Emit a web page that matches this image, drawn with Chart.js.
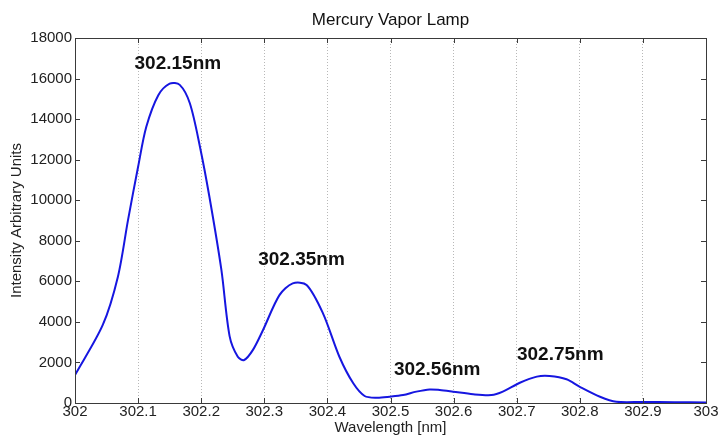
<!DOCTYPE html>
<html>
<head>
<meta charset="utf-8">
<script src="https://cdn.jsdelivr.net/npm/chart.js@4"></script>
<style>
  body { margin: 0; background: #fff; }
</style>
</head>
<body>
<canvas id="lampChart" width="719" height="438"></canvas>
<script>
// spectrum data
const wavelengths = [302.00, 302.044, 302.068, 302.084, 302.10, 302.113, 302.132, 302.15, 302.166, 302.182,
    302.198, 302.213, 302.232, 302.245, 302.258, 302.268, 302.282, 302.298, 302.324, 302.345,
    302.367, 302.393, 302.419, 302.441, 302.459, 302.478, 302.499, 302.52, 302.541, 302.562,
    302.578, 302.599, 302.631, 302.66, 302.678, 302.705, 302.732, 302.752, 302.779, 302.80,
    302.832, 302.858, 302.90, 302.95, 303.00];
const intensity = [1380, 3850, 6230, 9020, 11650, 13620, 15180, 15750, 15690, 14780,
    12640, 10170, 6560, 3300, 2280, 2120, 2620, 3600, 5320, 5900,
    5820, 4420, 2280, 970, 345, 260, 310, 390, 560, 670,
    640, 560, 430, 390, 560, 1000, 1300, 1330, 1170, 800,
    310, 60, 50, 40, 30];

// peak labels (text, wavelength, intensity where the label sits)
const peakLabels = ['302.15nm', '302.35nm', '302.56nm', '302.75nm'];
const peakLabelX = [302.163, 302.359, 302.574, 302.769];
const peakLabelY = [16710, 7050, 1650, 2370];

const chartTitle = 'Mercury Vapor Lamp';
const FONT = '"Liberation Sans", Arial, sans-serif';

// box, inward tick marks, title and peak labels
const matlabAxes = {
    id: 'matlabAxes',
    afterDraw(chart) {
        const ctx = chart.ctx;
        const a = chart.chartArea;
        const xs = chart.scales.x;
        const ys = chart.scales.y;
        ctx.save();
        ctx.strokeStyle = '#3a3a3a';
        ctx.lineWidth = 1;
        ctx.strokeRect(Math.round(a.left) + 0.5, Math.round(a.top) + 0.5,
            Math.round(a.right - a.left), Math.round(a.bottom - a.top));
        ctx.beginPath();
        xs.ticks.forEach(function (t) {
            const px = Math.round(xs.getPixelForValue(t.value)) + 0.5;
            ctx.moveTo(px, a.bottom);
            ctx.lineTo(px, a.bottom - 5);
            ctx.moveTo(px, a.top);
            ctx.lineTo(px, a.top + 5);
        });
        ys.ticks.forEach(function (t) {
            const py = Math.round(ys.getPixelForValue(t.value)) + 0.5;
            ctx.moveTo(a.left, py);
            ctx.lineTo(a.left + 5, py);
            ctx.moveTo(a.right, py);
            ctx.lineTo(a.right - 5, py);
        });
        ctx.stroke();

        ctx.fillStyle = '#111';
        ctx.textAlign = 'center';
        ctx.textBaseline = 'middle';
        ctx.font = '17px ' + FONT;
        ctx.fillText(chartTitle, (a.left + a.right) / 2, 20);

        ctx.font = 'bold 19px ' + FONT;
        for (let i = 0; i < peakLabels.length; i++) {
            ctx.fillText(peakLabels[i], xs.getPixelForValue(peakLabelX[i]), ys.getPixelForValue(peakLabelY[i]));
        }
        ctx.restore();
    }
};

document.addEventListener('DOMContentLoaded', function () {
    const ctx = document.getElementById('lampChart').getContext('2d');
    const points = wavelengths.map(function (w, i) { return { x: w, y: intensity[i] }; });

    new Chart(ctx, {
        type: 'line',
        data: {
            datasets: [{
                data: points,
                borderColor: '#1616e0',
                borderWidth: 2,
                pointRadius: 0,
                tension: 0.3,
                fill: false
            }]
        },
        options: {
            responsive: false,
            animation: false,
            layout: { padding: { top: 38, right: 13, left: 0, bottom: 0 } },
            plugins: {
                legend: { display: false },
                tooltip: { enabled: false },
                title: { display: false }
            },
            scales: {
                x: {
                    type: 'linear',
                    min: 302,
                    max: 303,
                    afterFit: function (scale) { scale.height = 35; },
                    ticks: {
                        stepSize: 0.1,
                        padding: 0,
                        color: '#222',
                        font: { family: FONT, size: 15 },
                        maxRotation: 0,
                        callback: function (v) { return String(+v.toFixed(1)); }
                    },
                    grid: { color: '#b8b8b8', drawTicks: false },
                    border: { display: false, dash: [1, 2] },
                    title: {
                        display: true,
                        text: 'Wavelength [nm]',
                        color: '#222',
                        font: { family: FONT, size: 15 },
                        padding: { top: 0, bottom: 1 }
                    }
                },
                y: {
                    min: 0,
                    max: 18000,
                    afterFit: function (scale) { scale.width = 75; },
                    ticks: {
                        stepSize: 2000,
                        padding: 3,
                        color: '#222',
                        font: { family: FONT, size: 15 },
                        callback: function (v) { return String(v); }
                    },
                    grid: { display: false, drawTicks: false },
                    border: { display: false },
                    title: {
                        display: true,
                        text: 'Intensity Arbitrary Units',
                        color: '#222',
                        font: { family: FONT, size: 15 },
                        padding: { top: 8, bottom: 0 }
                    }
                }
            }
        },
        plugins: [matlabAxes]
    });
});
</script>
</body>
</html>
